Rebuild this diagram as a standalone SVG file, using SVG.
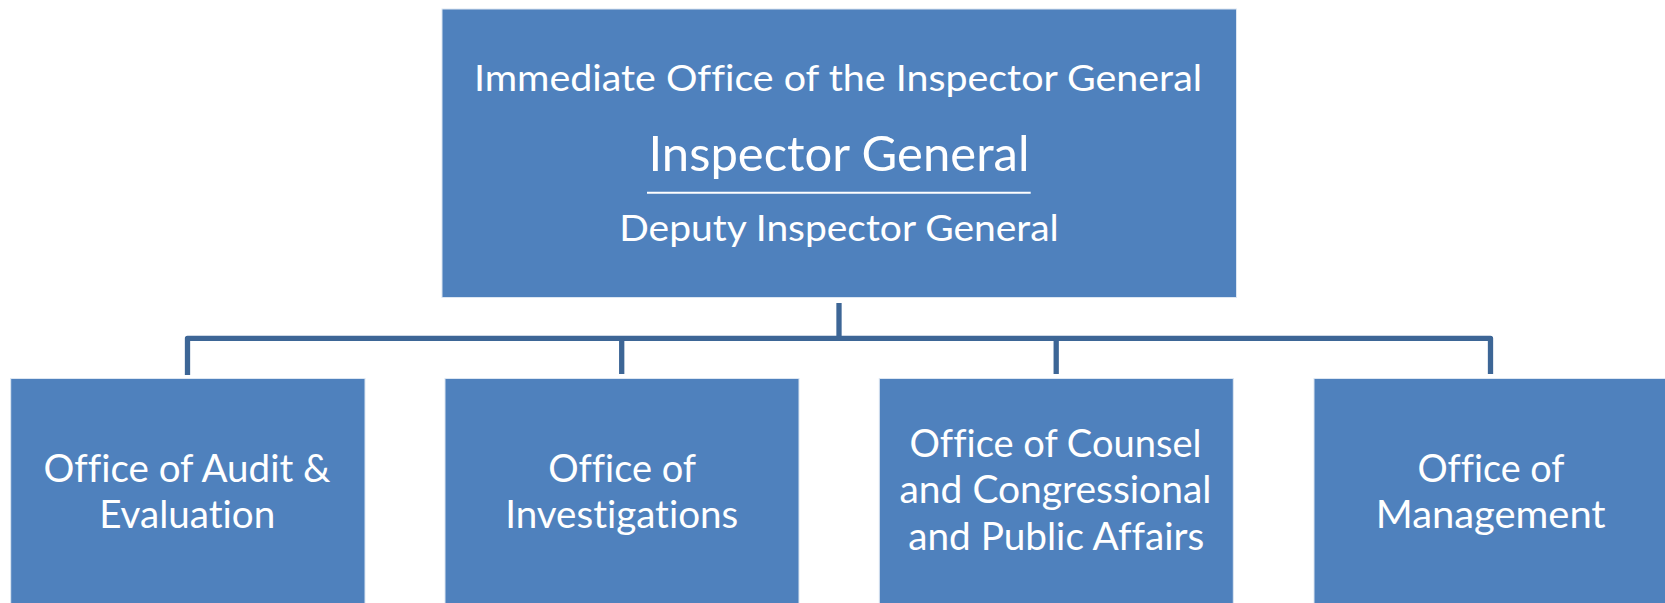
<svg xmlns="http://www.w3.org/2000/svg" width="1665" height="603" viewBox="0 0 1665 603">
<style>
.box{fill:#4F81BD;stroke:#DCE6F2;stroke-width:1}
.t{font-family:Lato,"Open Sans","Liberation Sans",sans-serif;fill:#FFFFFF;text-anchor:middle;font-variant-ligatures:none}
.s{font-size:37.5px}
.b{font-size:48.5px}
.n{font-size:38.5px}
.conn{fill:none;stroke:#3D6696;stroke-width:5.3;stroke-linejoin:round}
</style>
<rect width="1665" height="603" fill="#FFFFFF"/>
<g id="connectors">
<path class="conn" d="M839,303 V338.3"/>
<path class="conn" d="M187.5,375 V338.3 H1490.5 V374"/>
<path class="conn" d="M621.7,338.3 V374"/>
<path class="conn" d="M1056.2,338.3 V374"/>
</g>
<g id="ig">
<rect class="box" x="442" y="9" width="794.5" height="288.5"/>
<text class="t s" x="838" y="90.5" textLength="728" lengthAdjust="spacingAndGlyphs">Immediate Office of the Inspector General</text>
<text class="t b" x="839" y="170.5" textLength="381" lengthAdjust="spacingAndGlyphs">Inspector General</text>
<line x1="647" y1="192.8" x2="1030.7" y2="192.8" stroke="#FFFFFF" stroke-width="2"/>
<text class="t s" x="839" y="240.5" textLength="439.5" lengthAdjust="spacingAndGlyphs">Deputy Inspector General</text>
</g>
<g id="audit">
<rect class="box" x="10.7" y="378.5" width="354.3" height="240"/>
<text class="t n" x="187" y="481.7" textLength="287" lengthAdjust="spacingAndGlyphs">Office of Audit &amp;</text>
<text class="t n" x="187.2" y="528.3" textLength="176" lengthAdjust="spacingAndGlyphs">Evaluation</text>
</g>
<g id="investigations">
<rect class="box" x="445" y="378.5" width="354" height="240"/>
<text class="t n" x="622.2" y="481.7" textLength="148" lengthAdjust="spacingAndGlyphs">Office of</text>
<text class="t n" x="621.7" y="528.3" textLength="233" lengthAdjust="spacingAndGlyphs">Investigations</text>
</g>
<g id="counsel">
<rect class="box" x="879.3" y="378.5" width="354" height="240"/>
<text class="t n" x="1055.5" y="456.7" textLength="292" lengthAdjust="spacingAndGlyphs">Office of Counsel</text>
<text class="t n" x="1055.5" y="503.3" textLength="312" lengthAdjust="spacingAndGlyphs">and Congressional</text>
<text class="t n" x="1056.2" y="550" textLength="296" lengthAdjust="spacingAndGlyphs">and Public Affairs</text>
</g>
<g id="management">
<rect class="box" x="1314" y="378.5" width="354" height="240"/>
<text class="t n" x="1491" y="481.7" textLength="147" lengthAdjust="spacingAndGlyphs">Office of</text>
<text class="t n" x="1490.7" y="528.3" textLength="230" lengthAdjust="spacingAndGlyphs">Management</text>
</g>
</svg>
